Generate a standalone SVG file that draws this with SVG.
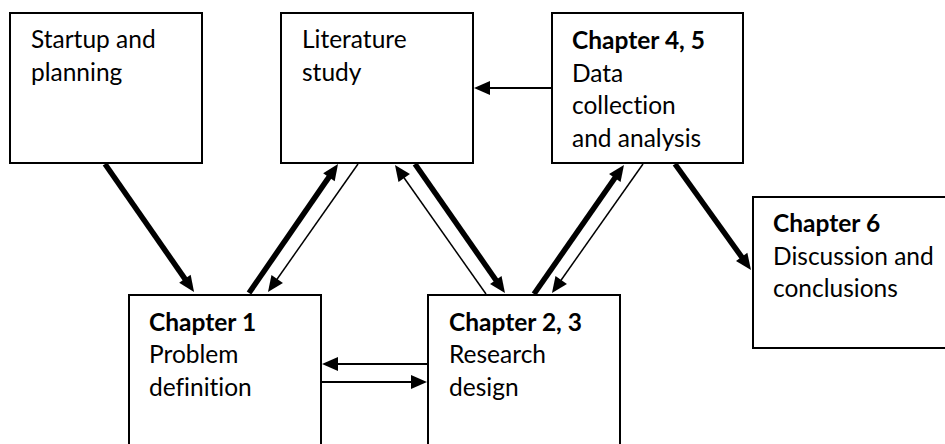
<svg xmlns="http://www.w3.org/2000/svg" width="945" height="444" viewBox="0 0 945 444">
  <style>
    .box { fill: #ffffff; stroke: #000000; stroke-width: 2; }
    .lbl { font-family: Lato, "Open Sans", sans-serif; font-size: 24.5px; fill: #000000; font-variant-ligatures: none; }
    .hd { font-weight: bold; }
    .thick { stroke: #000000; stroke-width: 5.5; fill: none; marker-end: url(#head); }
    .thin { stroke: #000000; stroke-width: 1.5; fill: none; marker-end: url(#head); }
    .mid { stroke: #000000; stroke-width: 2; fill: none; marker-end: url(#head); }
  </style>
  <defs>
    <marker id="head" markerUnits="userSpaceOnUse" markerWidth="16" markerHeight="14" refX="4" refY="7" orient="auto" overflow="visible">
      <path d="M0,0 L16,7 L0,14 Z" fill="#000000"/>
    </marker>
  </defs>
  <rect width="945" height="444" fill="#ffffff"/>

  <g id="startup">
    <rect class="box" x="10" y="13" width="192" height="150"/>
    <text class="lbl" x="31" y="48">Startup and</text>
    <text class="lbl" x="31" y="81">planning</text>
  </g>

  <g id="literature">
    <rect class="box" x="281" y="13" width="192" height="150"/>
    <text class="lbl" x="302" y="48">Literature</text>
    <text class="lbl" x="302" y="81">study</text>
  </g>

  <g id="chapter45">
    <rect class="box" x="552" y="13" width="191" height="150"/>
    <text class="lbl hd" x="572" y="49">Chapter 4, 5</text>
    <text class="lbl" x="572" y="82">Data</text>
    <text class="lbl" x="572" y="114">collection</text>
    <text class="lbl" x="572" y="147">and analysis</text>
  </g>

  <g id="chapter1">
    <rect class="box" x="129" y="295" width="192" height="160"/>
    <text class="lbl hd" x="149" y="331">Chapter 1</text>
    <text class="lbl" x="149" y="363">Problem</text>
    <text class="lbl" x="149" y="396">definition</text>
  </g>

  <g id="chapter23">
    <rect class="box" x="428" y="295" width="192" height="160"/>
    <text class="lbl hd" x="449" y="331">Chapter 2, 3</text>
    <text class="lbl" x="449" y="363">Research</text>
    <text class="lbl" x="449" y="396">design</text>
  </g>

  <g id="chapter6">
    <rect class="box" x="753" y="197" width="200" height="151"/>
    <text class="lbl hd" x="773" y="232">Chapter 6</text>
    <text class="lbl" x="773" y="265">Discussion and</text>
    <text class="lbl" x="773" y="297">conclusions</text>
  </g>

  <g id="connectors">
    <!-- startup to chapter 1 -->
    <line class="thick" x1="105" y1="164" x2="187.2" y2="282.1"/>
    <!-- chapter 1 and literature -->
    <line class="thick" x1="249" y1="293" x2="331.2" y2="173.9"/>
    <line class="thin" x1="358" y1="164" x2="274.9" y2="282.2"/>
    <!-- chapter 2,3 and literature -->
    <line class="thin" x1="486" y1="294" x2="401.9" y2="174.8"/>
    <line class="thick" x1="415" y1="164" x2="498.1" y2="283.2"/>
    <!-- chapter 2,3 and chapter 4,5 -->
    <line class="thick" x1="534" y1="294" x2="617.1" y2="174.8"/>
    <line class="thin" x1="643" y1="164" x2="558.9" y2="283.2"/>
    <!-- chapter 4,5 to chapter 6 -->
    <line class="thick" x1="675" y1="164" x2="744.0" y2="260.2"/>
    <!-- chapter 4,5 back to literature -->
    <line class="mid" x1="552" y1="88" x2="486" y2="88"/>
    <!-- between chapter 1 and chapter 2,3 -->
    <line class="mid" x1="428" y1="364" x2="334" y2="364"/>
    <line class="mid" x1="321" y1="382" x2="415" y2="382"/>
  </g>
</svg>
